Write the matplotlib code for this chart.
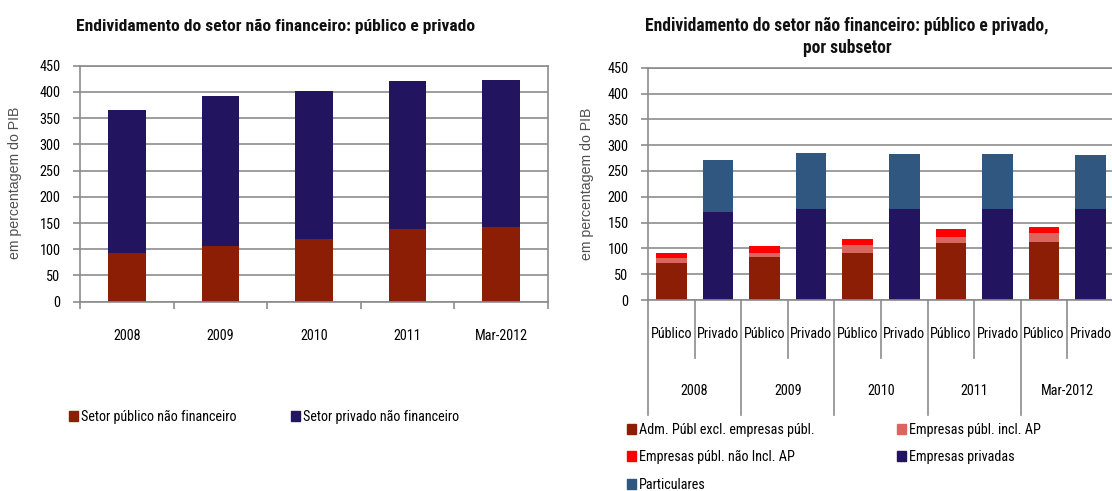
import matplotlib
matplotlib.use('Agg')
import matplotlib.pyplot as plt
import matplotlib.transforms as mtransforms
from matplotlib import font_manager as fm
from matplotlib.patches import Patch
import numpy as np

# Fonte estreita (tipo Arial Narrow) se existir; senão Liberation Sans
familias = {f.name for f in fm.fontManager.ttflist}
fonte = None
for nome in ['Liberation Sans Narrow', 'Arial Narrow', 'Roboto Condensed',
             'Open Sans Condensed', 'Noto Sans Condensed', 'DejaVu Sans Condensed']:
    if nome in familias:
        fonte = nome
        break
if fonte is None:
    for f in fm.fontManager.ttflist:
        if f.stretch == 'condensed' and f.name in ('Roboto', 'Open Sans', 'Noto Sans', 'DejaVu Sans'):
            fonte = f.name
            plt.rcParams['font.stretch'] = 'condensed'
            break
if fonte is None:
    fonte = 'Liberation Sans'
plt.rcParams['font.family'] = [fonte, 'DejaVu Sans']

# Dados - gráfico da esquerda
anos = ['2008', '2009', '2010', '2011', 'Mar-2012']
setor_publico = [92, 107, 120, 139, 143]
setor_privado = [273, 285, 282, 282, 279]

# Dados - gráfico da direita (por subsetor)
subsetores = ['Público', 'Privado']
adm_publica = [72, 83, 92, 110, 113]
emp_publ_incl_ap = [10, 9, 14, 13, 17]
emp_publ_nao_incl_ap = [10, 13, 13, 14, 12]
empresas_privadas = [171, 177, 177, 177, 176]
particulares = [101, 108, 105, 105, 104]

cor_pub = '#8B1E04'
cor_priv = '#22145E'
cor_incl = '#D9665F'
cor_nao_incl = '#FF0000'
cor_part = '#30577F'
cor_grade = '#8c8c8c'

W, H = 1112, 491
fig = plt.figure(figsize=(W / 100, H / 100), dpi=100)
renderer = fig.canvas.get_renderer()


def medir(texto, largura):
    tmp = fig.text(0, 0, texto, fontsize=10)
    tamanho = 10 * largura / tmp.get_window_extent(renderer).width
    tmp.remove()
    return tamanho


tam = medir('Público', 42)      # rótulos e legendas
tam_num = medir('450', 21)      # números do eixo y


def ajustar(t, largura):
    bb = t.get_window_extent(renderer)
    t.set_fontsize(t.get_fontsize() * largura / bb.width)


ax1 = fig.add_axes([80 / W, 1 - 301.7 / H, 468 / W, 236 / H])
ax2 = fig.add_axes([648 / W, 1 - 300 / H, 466 / W, 232.3 / H])


def estilo(ax):
    ax.set_ylim(0, 450)
    ax.set_yticks(range(0, 451, 50))
    ax.yaxis.grid(True, color=cor_grade, linewidth=1.2)
    ax.set_axisbelow(True)
    for s in ax.spines.values():
        s.set_color(cor_grade)
        s.set_linewidth(1.2)
    ax.tick_params(axis='y', length=5, color=cor_grade, width=1.2,
                   labelsize=tam_num, pad=9)


# Esquerda
estilo(ax1)
x = np.arange(len(anos))
ax1.bar(x, setor_publico, 0.4, color=cor_pub)
ax1.bar(x, setor_privado, 0.4, bottom=setor_publico, color=cor_priv)
ax1.set_xlim(-0.5, len(anos) - 0.5)
ax1.set_xticks(np.arange(-0.5, len(anos), 1))
ax1.set_xticklabels([])
ax1.tick_params(axis='x', length=5, color=cor_grade, width=1.2)
trans1 = mtransforms.blended_transform_factory(ax1.transData, ax1.transAxes)
for i, ano in enumerate(anos):
    ax1.text(i, (301.7 - 340) / 236, ano, transform=trans1, ha='center',
             va='baseline', fontsize=tam)

# Direita
estilo(ax2)
pos_pub = np.arange(0, 2 * len(anos), 2)
pos_priv = pos_pub + 1
w = 0.66
base2 = np.array(adm_publica) + np.array(emp_publ_incl_ap)
ax2.bar(pos_pub, adm_publica, w, color=cor_pub)
ax2.bar(pos_pub, emp_publ_incl_ap, w, bottom=adm_publica, color=cor_incl)
ax2.bar(pos_pub, emp_publ_nao_incl_ap, w, bottom=base2, color=cor_nao_incl)
ax2.bar(pos_priv, empresas_privadas, w, color=cor_priv)
ax2.bar(pos_priv, particulares, w, bottom=empresas_privadas, color=cor_part)
ax2.set_xlim(-0.5, 2 * len(anos) - 0.5)
ax2.set_xticks([])

trans2 = mtransforms.blended_transform_factory(ax2.transData, ax2.transAxes)
for i in range(2 * len(anos)):
    ax2.text(i, (300 - 338) / 232.3, subsetores[i % 2], transform=trans2,
             ha='center', va='baseline', fontsize=tam)
for k, ano in enumerate(anos):
    ax2.text(2 * k + 0.5, (300 - 395) / 232.3, ano, transform=trans2,
             ha='center', va='baseline', fontsize=tam)
for b in np.arange(-0.5, 2 * len(anos), 1):
    fim = -0.495 if int(b + 0.5) % 2 == 0 else -0.25
    ax2.plot([b, b], [0, fim], transform=trans2, clip_on=False,
             color=cor_grade, lw=1.2)

# Títulos
t1 = fig.text(276 / W, 1 - 31 / H,
              'Endividamento do setor não financeiro: público e privado',
              ha='center', va='baseline', fontweight='bold', fontsize=12,
              color='#111111')
ajustar(t1, 400)
t2 = fig.text(847 / W, 1 - 31 / H,
              'Endividamento do setor não financeiro: público e privado,',
              ha='center', va='baseline', fontweight='bold', fontsize=12,
              color='#111111')
ajustar(t2, 405)
fig.text(847 / W, 1 - 53 / H, 'por subsetor', ha='center', va='baseline',
         fontweight='bold', fontsize=t2.get_fontsize(), color='#111111')

# Rótulos do eixo y
for xp, yp in ((15, 183), (587, 184)):
    yl = fig.text(xp / W, 1 - yp / H, 'em percentagem do PIB', rotation=90,
                  ha='center', va='center', fontsize=10, color='#505050',
                  family=['Liberation Sans', 'DejaVu Sans'])
    bb = yl.get_window_extent(renderer)
    yl.set_fontsize(10 * 153 / bb.height)

# Legendas (uma entrada por posição)
itens_legenda = [
    ('Setor público não financeiro', cor_pub, 69, 417),
    ('Setor privado não financeiro', cor_priv, 291, 417),
    ('Adm. Públ excl. empresas públ.', cor_pub, 627, 430),
    ('Empresas públ. não Incl. AP', cor_nao_incl, 627, 457),
    ('Particulares', cor_part, 627, 485),
    ('Empresas públ. incl. AP', cor_incl, 897, 430),
    ('Empresas privadas', cor_priv, 897, 457),
]
for rotulo, cor, lx, ly in itens_legenda:
    fig.legend(handles=[Patch(color=cor, label=rotulo)], loc='center left',
               bbox_to_anchor=(lx / W, 1 - ly / H), frameon=False,
               fontsize=tam, handlelength=0.65, handleheight=0.65,
               handletextpad=0.2, borderpad=0, borderaxespad=0)

fig.savefig('out.png', dpi=100)
